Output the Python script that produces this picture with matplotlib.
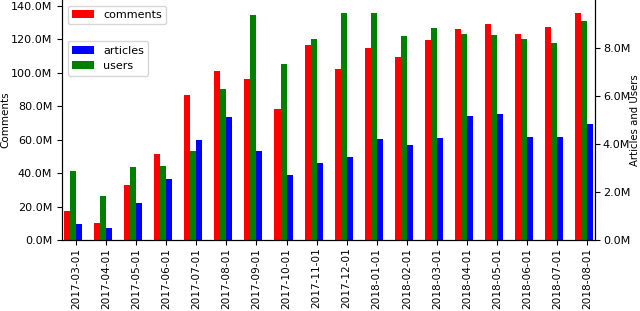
import matplotlib
matplotlib.use("Agg")
import matplotlib.pyplot as plt
from matplotlib.ticker import FuncFormatter
import numpy as np

dates = ["2017-03-01", "2017-04-01", "2017-05-01", "2017-06-01", "2017-07-01",
         "2017-08-01", "2017-09-01", "2017-10-01", "2017-11-01", "2017-12-01",
         "2018-01-01", "2018-02-01", "2018-03-01", "2018-04-01", "2018-05-01",
         "2018-06-01", "2018-07-01", "2018-08-01"]
comments = [17.3, 10.3, 32.7, 51.2, 86.8, 101.1, 96.3, 78.1, 116.6, 102.3,
            114.8, 109.3, 119.4, 126.0, 129.0, 123.0, 127.2, 135.5]  # millions
users = [2.86, 1.83, 3.02, 3.08, 3.71, 6.27, 9.36, 7.33, 8.37, 9.44,
         9.44, 8.50, 8.82, 8.58, 8.54, 8.36, 8.19, 9.11]  # millions
articles = [0.67, 0.50, 1.54, 2.52, 4.15, 5.13, 3.69, 2.69, 3.19, 3.44,
            4.19, 3.94, 4.24, 5.15, 5.25, 4.30, 4.30, 4.81]  # millions

plt.rcParams['font.size'] = 8

fig = plt.figure(figsize=(6.4, 3.11), dpi=100)
W, H = 640, 311
x0, x1, ybot, ytop = 62, 594.5, 240, 0
ax = fig.add_axes([x0 / W, (H - ybot) / H, (x1 - x0) / W, (ybot - ytop) / H])
ax2 = ax.twinx()

x = np.arange(len(dates))
w = 0.2
c = np.array(comments) * 1e6
u = np.array(users) * 1e6
a = np.array(articles) * 1e6

ax.bar(x - 0.3, c, width=w, color='red', label='comments')
ax2.bar(x - 0.1, u, width=w, color='green', label='users')
ax2.bar(x + 0.1, a, width=w, color='blue', label='articles')

ax.set_xlim(-0.465, 17.24)
ax.set_ylim(0, 143.3e6)
ax2.set_ylim(0, 9.98e6)

fmt = FuncFormatter(lambda v, p: "{:.1f}M".format(v / 1e6))
ax.yaxis.set_major_formatter(fmt)
ax2.yaxis.set_major_formatter(fmt)
ax.set_yticks(np.arange(0, 141e6, 20e6))
ax2.set_yticks(np.arange(0, 9e6, 2e6))
ax2.tick_params(axis='y', pad=2.5)

ax.set_xticks(x)
ax.set_xticklabels(dates, rotation=90, fontsize=7.6)
ax.tick_params(axis='x', pad=2)

ax.set_ylabel("Comments", labelpad=0.5, fontsize=7.5)
ax2.set_ylabel("Articles and Users", labelpad=0, fontsize=7.3)

for a_ in (ax, ax2):
    a_.spines['top'].set_visible(False)

ax.legend(loc='upper left')
h2, l2 = ax2.get_legend_handles_labels()
ax2.legend([h2[1], h2[0]], [l2[1], l2[0]], loc='upper left',
           bbox_to_anchor=(0, 0.852))

fig.savefig("out.png", dpi=100)
